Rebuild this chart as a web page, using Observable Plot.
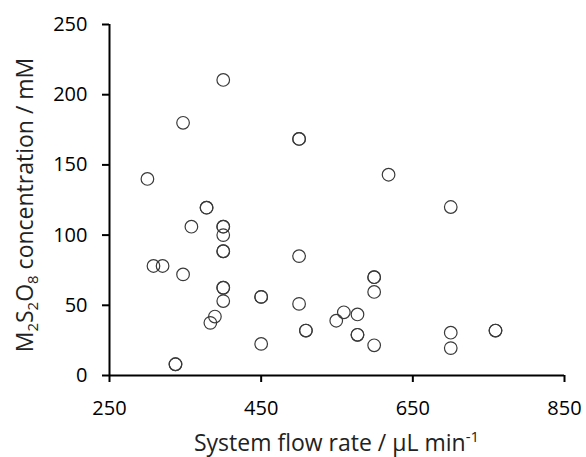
<!DOCTYPE html>
<html>
<head>
<meta charset="utf-8">
<script src="https://cdn.jsdelivr.net/npm/d3@7"></script>
<script src="https://cdn.jsdelivr.net/npm/@observablehq/plot@0.6"></script>
<style>
  html, body { margin: 0; padding: 0; background: #fff; }
  #chart { width: 586px; height: 457px; }
</style>
</head>
<body>
<div id="chart"></div>
<script>
// System flow rate (µL/min) and M2S2O8 concentration (mM); overlapping (bold) points listed twice
const flowRate = [300, 347, 400, 500, 500, 618, 700, 378, 378, 358, 400, 400, 400, 400, 400,
  308, 320, 347, 400, 400, 400, 389, 383, 337, 337, 450, 450, 450, 500, 500, 509, 509,
  549, 559, 577, 577, 577, 599, 599, 599, 599, 700, 700, 759, 759];
const concentration = [140, 180, 210.5, 168.5, 168.5, 143, 120, 119.5, 119.5, 106, 106, 106, 100, 88.5, 88.5,
  78, 78, 72, 62.5, 62.5, 53, 42, 37.5, 8, 8, 56, 56, 22.5, 85, 51, 32, 32,
  39, 45, 43.5, 29, 29, 70, 70, 59.5, 21.5, 30.5, 19.5, 32, 32];
const xTicks = [250, 450, 650, 850];
const yTicks = [0, 50, 100, 150, 200, 250];

const data = flowRate.map((f, i) => ({flow: f, conc: concentration[i]}));

const W = 586, H = 457;
const fontFamily = "'Open Sans', sans-serif";

const svg = Plot.plot({
  width: W,
  height: H,
  marginLeft: 109,
  marginRight: 22,
  marginTop: 24,
  marginBottom: 82,
  style: {fontFamily, fontSize: "20px", color: "#000", background: "#fff", overflow: "visible"},
  x: {domain: [250, 850], label: null},
  y: {domain: [0, 250], label: null},
  marks: [
    Plot.axisX({ticks: xTicks, tickSize: 7, tickPadding: 18, strokeWidth: 2, label: null, fontSize: 20}),
    Plot.axisY({ticks: yTicks, tickSize: 7, tickPadding: 15, strokeWidth: 2, label: null, fontSize: 20}),
    Plot.ruleX([250], {stroke: "#000", strokeWidth: 2}),
    Plot.ruleY([0], {stroke: "#000", strokeWidth: 2}),
    Plot.dot(data, {x: "flow", y: "conc", r: 6.3, stroke: "#3a3a3a", strokeWidth: 1.2, fill: "none"})
  ]
});

const s = d3.select(svg);
// x-axis title
const xt = s.append("text")
  .attr("x", 336.5).attr("y", 450.5)
  .attr("text-anchor", "middle")
  .attr("font-family", fontFamily).attr("font-size", 23).attr("fill", "#222");
xt.append("tspan").text("System flow rate / µL min");
xt.append("tspan").attr("dy", -9).attr("font-size", 15).text("-1");

// y-axis title
const yt = s.append("text")
  .attr("transform", "translate(33,205) rotate(-90)")
  .attr("text-anchor", "middle")
  .attr("font-family", fontFamily).attr("font-size", 23).attr("fill", "#222");
yt.append("tspan").text("M");
yt.append("tspan").attr("dy", 5).attr("font-size", 15).text("2");
yt.append("tspan").attr("dy", -5).text("S");
yt.append("tspan").attr("dy", 5).attr("font-size", 15).text("2");
yt.append("tspan").attr("dy", -5).text("O");
yt.append("tspan").attr("dy", 5).attr("font-size", 15).text("8");
yt.append("tspan").attr("dy", -5).text(" concentration / mM");

document.getElementById("chart").appendChild(svg);
</script>
</body>
</html>
